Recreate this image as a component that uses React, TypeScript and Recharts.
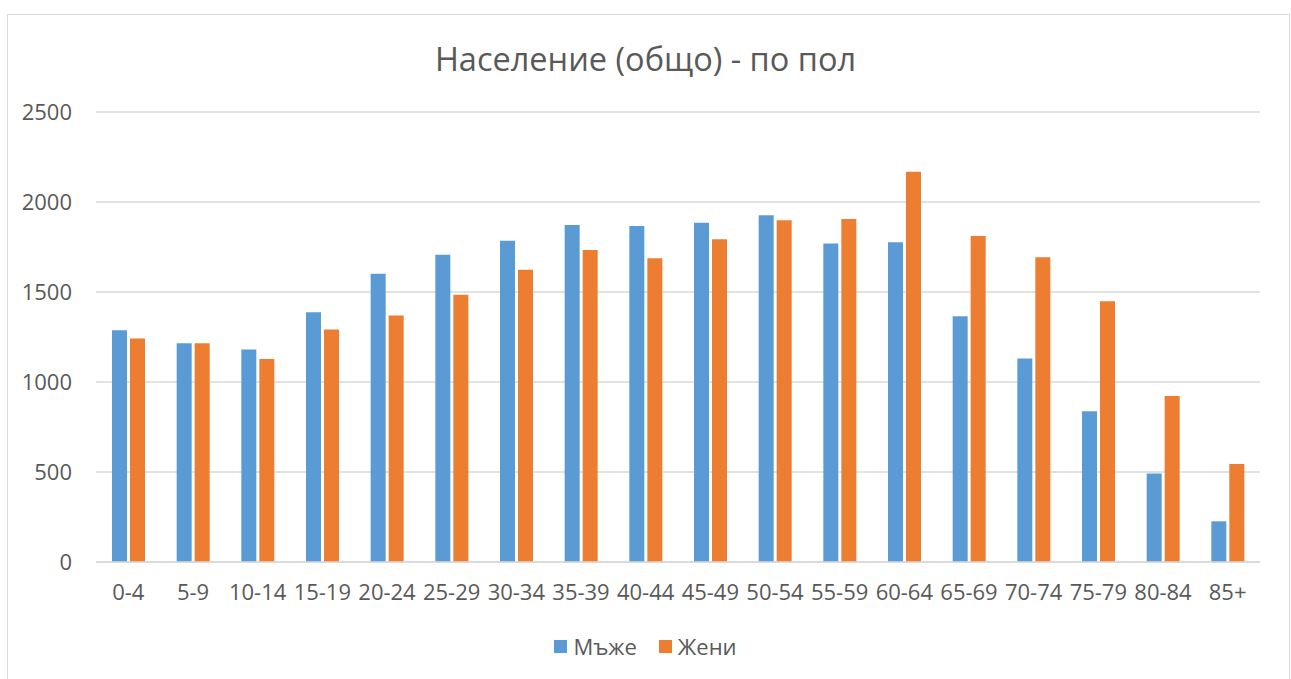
import { BarChart, Bar, XAxis, YAxis, CartesianGrid } from 'recharts'

const categories = ['0-4', '5-9', '10-14', '15-19', '20-24', '25-29', '30-34', '35-39', '40-44', '45-49', '50-54', '55-59', '60-64', '65-69', '70-74', '75-79', '80-84', '85+']
const men = [1287, 1215, 1180, 1387, 1602, 1707, 1785, 1872, 1867, 1885, 1926, 1769, 1776, 1365, 1131, 837, 491, 226]
const women = [1242, 1215, 1128, 1291, 1370, 1485, 1624, 1733, 1687, 1793, 1898, 1906, 2168, 1811, 1693, 1448, 922, 544]
const yTicks = [0, 500, 1000, 1500, 2000, 2500]

const series = [
  { key: 'men', name: 'Мъже', color: '#5B9BD5' },
  { key: 'women', name: 'Жени', color: '#ED7D31' },
]

const data = categories.map((c, i) => ({ group: c, men: men[i], women: women[i] }))

const FONT = '"Open Sans", "DejaVu Sans", sans-serif'
const TEXT = '#595959'

export default function App() {
  return (
    <div style={{ position: 'absolute', left: 0, top: 0, width: 1291, height: 679, overflow: 'hidden', background: '#fff', fontFamily: FONT }}>
      <div style={{ position: 'absolute', left: 7, top: 14, width: 1281, height: 720, border: '1px solid #d9d9d9' }} />
      <div style={{ position: 'absolute', left: 0, top: 36, width: 1291, textAlign: 'center', fontSize: 32.5, color: TEXT, lineHeight: '46px' }}>
        Население (общо) - по пол
      </div>
      <BarChart
        width={1291}
        height={679}
        data={data}
        margin={{ top: 112, right: 31, left: 0, bottom: 87 }}
        barSize={15}
        barGap={3}
        style={{ position: 'absolute', left: 0, top: 0 }}
      >
        <CartesianGrid vertical={false} stroke="#d9d9d9" strokeWidth={1.5} />
        <XAxis
          dataKey="group"
          height={30}
          axisLine={{ stroke: '#d9d9d9', strokeWidth: 1.5 }}
          tickLine={false}
          tickSize={6}
          tickMargin={16}
          interval={0}
          tick={{ fontSize: 22, fill: TEXT, fontFamily: FONT }}
        />
        <YAxis
          width={96}
          domain={[0, 2500]}
          ticks={yTicks}
          axisLine={false}
          tickLine={false}
          tickSize={6}
          tickMargin={18}
          tick={{ fontSize: 22, fill: TEXT, fontFamily: FONT }}
        />
        {series.map((s) => (
          <Bar key={s.key} dataKey={s.key} name={s.name} fill={s.color} isAnimationActive={false} />
        ))}
      </BarChart>
      <div style={{ position: 'absolute', left: 0, top: 632, width: 1291, display: 'flex', justifyContent: 'center', gap: 22, fontSize: 22, color: TEXT, lineHeight: '28px' }}>
        {series.map((s) => (
          <div key={s.key} style={{ display: 'flex', alignItems: 'center' }}>
            <span style={{ display: 'inline-block', width: 13, height: 13, background: s.color, marginRight: 6 }} />
            <span>{s.name}</span>
          </div>
        ))}
      </div>
    </div>
  )
}
